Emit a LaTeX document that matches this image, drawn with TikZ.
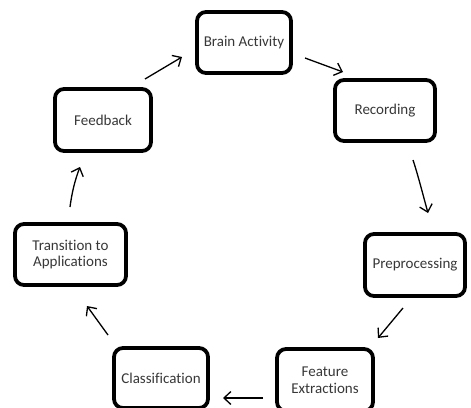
\documentclass[tikz,border=0pt]{standalone}
\usepackage{fontspec}
\setmainfont{Carlito}[Ligatures=NoCommon]
\usetikzlibrary{arrows.meta}
\begin{document}
\begin{tikzpicture}[x=1pt,y=-1pt,
  box/.style={draw=black, line width=3.8pt, rounded corners=9pt, fill=white,
    text=black!78, font=\fontsize{15}{16.5}\selectfont, align=center, inner sep=0pt},
  conn/.style={line width=1.3pt, -{Straight Barb[length=7pt,width=13pt,line width=1.3pt]}}]
\useasboundingbox (0,0) rectangle (471,407);
\clip (0,0) rectangle (471,407);
\node[box, minimum width=94pt, minimum height=61pt] (ba) at (244,42.5) {Brain Activity};
\node[box, minimum width=100pt, minimum height=61pt] (rec) at (385,110.5) {Recording};
\node[box, minimum width=96pt, minimum height=62pt] (fb) at (103,120) {Feedback};
\node[box, minimum width=111pt, minimum height=61pt] (tr) at (70.5,254.5) {Transition to\\Applications};
\node[box, minimum width=100pt, minimum height=62pt] (pre) at (415,265) {Preprocessing};
\node[box, minimum width=96pt, minimum height=62pt] (fe) at (325,380) {Feature\\Extractions};
\node[box, minimum width=94pt, minimum height=60pt] (cl) at (161,378) {Classification};
\coordinate (a1s) at (145,79);  \coordinate (a1e) at (182,57);
\coordinate (a2s) at (305,58);  \coordinate (a2e) at (343,72);
\coordinate (a3s) at (413,160); \coordinate (a3e) at (428,213);
\coordinate (a4s) at (403,308); \coordinate (a4e) at (378,338);
\coordinate (a5s) at (263,398); \coordinate (a5e) at (223,398);
\coordinate (a6s) at (108,335); \coordinate (a6e) at (87,306);
\coordinate (a7s) at (70,207);  \coordinate (a7e) at (80,167);
\draw[conn] (a1s) -- (a1e);
\draw[conn] (a2s) -- (a2e);
\draw[conn] (a3s) .. controls (418,175) and (423,195) .. (a3e);
\draw[conn] (a4s) -- (a4e);
\draw[conn] (a5s) -- (a5e);
\draw[conn] (a6s) -- (a6e);
\draw[conn] (a7s) .. controls (72,192) and (75,180) .. (a7e);
\end{tikzpicture}
\end{document}
